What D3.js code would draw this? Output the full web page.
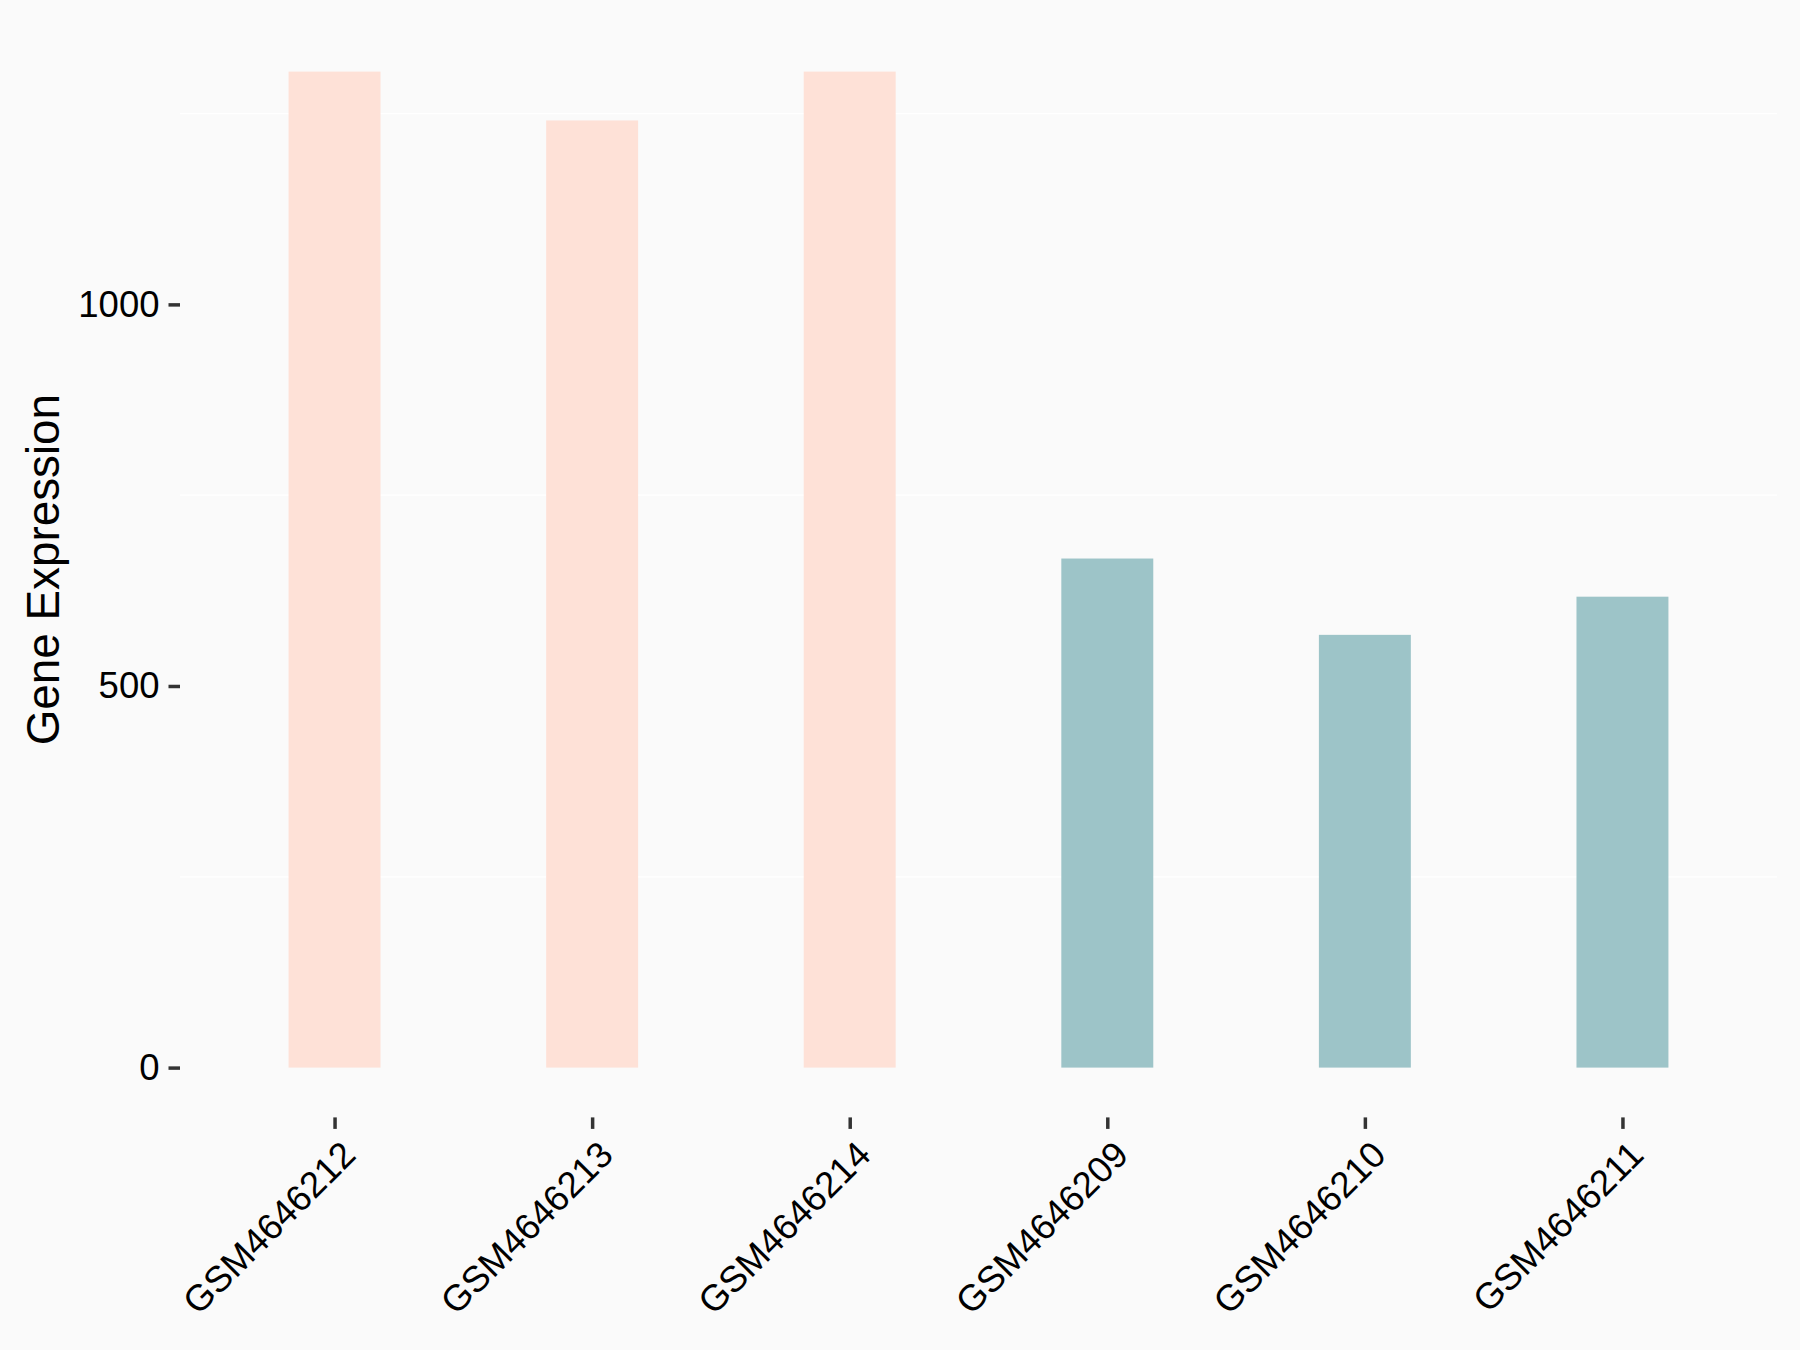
<!DOCTYPE html>
<html>
<head>
<meta charset="utf-8">
<script src="https://cdn.jsdelivr.net/npm/d3@7"></script>
<style>
  html, body { margin: 0; padding: 0; background: #fafafa; }
  svg { display: block; }
  text { font-family: "Liberation Sans", Arial, sans-serif; }
</style>
</head>
<body>
<div id="chart"></div>
<script>
const samples = ["GSM4646212", "GSM4646213", "GSM4646214", "GSM4646209", "GSM4646210", "GSM4646211"];
const expression = [1305, 1241, 1305, 667, 567, 617];
const groups = ["high", "high", "high", "low", "low", "low"];
const yTicks = [0, 500, 1000];
const minorTicks = [250, 750, 1250];

const width = 1800;
const height = 1350;
const panel = { left: 180, right: 1777, top: 21.8, bottom: 1117.4 };

const groupColor = { high: "#fee1d7", low: "#9dc4c8" };

const data = samples.map((s, i) => ({ sample: s, value: expression[i], group: groups[i] }));

const svg = d3.select("#chart").append("svg")
    .attr("width", width)
    .attr("height", height);

svg.append("rect")
    .attr("width", width)
    .attr("height", height)
    .attr("fill", "#fafafa");

const x = d3.scalePoint()
    .domain(samples)
    .range([panel.left, panel.right])
    .padding(0.6);

const maxVal = d3.max(expression);
const y = d3.scaleLinear()
    .domain([-0.05 * maxVal, 1.05 * maxVal])
    .range([panel.bottom, panel.top]);

const barWidth = x.step() * 0.357;

// minor grid, white
svg.append("g")
    .selectAll("line")
    .data(minorTicks)
    .enter()
    .append("line")
    .attr("x1", panel.left)
    .attr("x2", panel.right)
    .attr("y1", d => y(d))
    .attr("y2", d => y(d))
    .attr("stroke", "#ffffff")
    .attr("stroke-width", 1.2);

svg.append("g")
    .selectAll("rect")
    .data(data)
    .enter()
    .append("rect")
    .attr("x", d => x(d.sample) - barWidth / 2)
    .attr("width", barWidth)
    .attr("y", d => y(d.value))
    .attr("height", d => y(0) - y(d.value))
    .attr("fill", d => groupColor[d.group]);

// y axis
const yAxis = svg.append("g")
    .attr("transform", `translate(${panel.left},0)`)
    .call(d3.axisLeft(y).tickValues(yTicks).tickFormat(d3.format("d")).tickSize(11.5).tickPadding(9));
yAxis.select(".domain").remove();
yAxis.selectAll("line").attr("stroke", "#333333").attr("stroke-width", 3.5);
yAxis.selectAll("text")
    .attr("fill", "#000")
    .style("font-size", "36.5px")
    .style("font-family", "'Liberation Sans', Arial, sans-serif");

// x axis
const xAxis = svg.append("g")
    .attr("transform", `translate(0,${panel.bottom})`)
    .call(d3.axisBottom(x).tickSize(11.5).tickPadding(9));
xAxis.select(".domain").remove();
xAxis.selectAll("line").attr("stroke", "#333333").attr("stroke-width", 3.5);
xAxis.selectAll("text")
    .attr("fill", "#000")
    .style("font-size", "36.5px")
    .style("font-family", "'Liberation Sans', Arial, sans-serif")
    .attr("text-anchor", "end")
    .attr("x", 0)
    .attr("y", 0)
    .attr("dy", "0.72em")
    .attr("transform", "translate(4,21) rotate(-45)");

svg.append("text")
    .attr("transform", `translate(58.5,${(panel.top + panel.bottom) / 2}) rotate(-90)`)
    .attr("text-anchor", "middle")
    .attr("fill", "#000")
    .style("font-size", "45.8px")
    .text("Gene Expression");
</script>
</body>
</html>
